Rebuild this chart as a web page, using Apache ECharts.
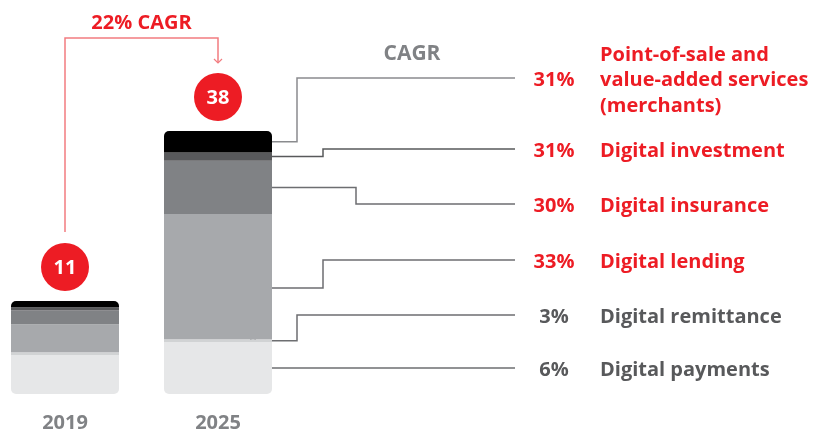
<!DOCTYPE html>
<html>
<head>
<meta charset="utf-8">
<script src="https://cdn.jsdelivr.net/npm/echarts@6/dist/echarts.min.js"></script>
<style>
  html, body { margin: 0; padding: 0; background: #fff; }
  #chart { width: 825px; height: 434px; }
</style>
</head>
<body>
<div id="chart"></div>
<script>
  // data, bottom segment first
  var years = ['2019', '2025']
  var totals = [11, 38]
  var segments = ['Digital payments', 'Digital remittance', 'Digital lending', 'Digital insurance', 'Digital investment', 'Point-of-sale and\nvalue-added services\n(merchants)']
  var values2019 = [4.6, 0.35, 3.3, 1.65, 0.35, 0.75]
  var values2025 = [7.5, 0.4, 18.1, 7.7, 1.2, 3.1]
  var cagr = ['6%', '3%', '33%', '30%', '31%', '31%']
  var totalCagr = '22% CAGR'

  var RED = '#ed1c24'
  var GREY = '#808285'
  var DARK = '#58595b'
  var FONT = '"Open Sans"'
  var colors = ['#e6e7e8', '#d1d3d4', '#a7a9ac', '#808285', '#58595b', '#000000']

  var chart = echarts.init(document.getElementById('chart'))

  function radius(i) {
    if (i === 0) return [0, 0, 5, 5]
    if (i === segments.length - 1) return [5, 5, 0, 0]
    return 0
  }

  var series = []
  segments.forEach(function (name, i) {
    series.push({
      name: name, type: 'bar', stack: 'y2019', xAxisIndex: 0, yAxisIndex: 0,
      barWidth: '100%', silent: true,
      itemStyle: { color: colors[i], borderRadius: radius(i) },
      data: [values2019[i]]
    })
    series.push({
      name: name, type: 'bar', stack: 'y2025', xAxisIndex: 1, yAxisIndex: 1,
      barWidth: '100%', silent: true,
      itemStyle: { color: colors[i], borderRadius: radius(i) },
      data: [values2025[i]]
    })
  })

  function xAxis(idx) {
    return {
      type: 'category', gridIndex: idx, data: [years[idx]],
      axisLine: { show: false }, axisTick: { show: false },
      axisLabel: { color: GREY, fontFamily: 'Open Sans', fontWeight: 'bold', fontSize: 20, margin: 19 }
    }
  }
  function yAxis(idx) {
    return { type: 'value', gridIndex: idx, min: 0, max: totals[idx], show: false }
  }

  chart.setOption({
    animation: false,
    grid: [
      { left: 11, width: 108, top: 301, bottom: 40 },
      { left: 164, width: 108, top: 131, bottom: 40 }
    ],
    xAxis: [xAxis(0), xAxis(1)],
    yAxis: [yAxis(0), yAxis(1)],
    series: series
  })

  // annotations placed from the axes
  var g = []
  var circles = []
  years.forEach(function (y, idx) {
    var p = chart.convertToPixel({ xAxisIndex: idx, yAxisIndex: idx }, [y, totals[idx]])
    var cy = p[1] - 34
    circles.push([p[0], cy])
    g.push({ type: 'circle', shape: { cx: p[0], cy: cy, r: 24 }, style: { fill: RED } })
    g.push({
      type: 'text', x: p[0], y: cy + 1,
      style: { text: String(totals[idx]), fill: '#fff', font: 'bold 20px ' + FONT, textAlign: 'center', textVerticalAlign: 'middle' }
    })
  })

  // CAGR bracket
  var bracketY = 38
  var c0 = circles[0], c1 = circles[1]
  g.push({
    type: 'polyline',
    shape: { points: [[c0[0], c0[1] - 35], [c0[0], bracketY], [c1[0], bracketY], [c1[0], c1[1] - 34]] },
    style: { stroke: '#f27c80', lineWidth: 1.5, fill: 'none' }
  })
  g.push({
    type: 'polyline',
    shape: { points: [[c1[0] - 4, c1[1] - 38], [c1[0], c1[1] - 34], [c1[0] + 4, c1[1] - 38]] },
    style: { stroke: '#f27c80', lineWidth: 1.2, fill: 'none' }
  })
  g.push({
    type: 'text', x: (c0[0] + c1[0]) / 2, y: 23,
    style: { text: totalCagr, fill: RED, font: 'bold 20px ' + FONT, textAlign: 'center', textVerticalAlign: 'middle' }
  })
  g.push({
    type: 'text', x: 412, y: 54,
    style: { text: 'CAGR', fill: GREY, font: 'bold 21px ' + FONT, textAlign: 'center', textVerticalAlign: 'middle' }
  })

  // leader lines from 2025 bar to labels
  var rowY = [368, 315, 260, 204, 149, 78]
  var elbowX = [null, 297, 323, 356, 323, 297]
  var dotFrac = [0.5, 0.5, 0.41, 0.5, 0.5, 0.5]
  var lineColors = ['#6d6e71', '#6d6e71', '#6d6e71', '#6d6e71', '#58595b', '#8a8b8e']
  var base = 0
  values2025.forEach(function (v, i) {
    var p = chart.convertToPixel({ xAxisIndex: 1, yAxisIndex: 1 }, [years[1], base + v * dotFrac[i]])
    base += v
    var dx = p[0] + 35, dy = p[1]
    var pts = elbowX[i] === null
      ? [[dx + 2.5, dy], [515, dy]]
      : [[dx + 2.5, dy], [elbowX[i], dy], [elbowX[i], rowY[i]], [515, rowY[i]]]
    g.push({ type: 'polyline', shape: { points: pts }, style: { stroke: lineColors[i], lineWidth: 1.5, fill: 'none' } })
    g.push({
      type: 'circle', shape: { cx: dx, cy: dy, r: 2.5 },
      style: { fill: colors[i], stroke: i < 2 ? DARK : '#fff', lineWidth: 1.2 }
    })
    var red = i >= 2
    g.push({
      type: 'text', x: 554, y: rowY[i] + 2.5,
      style: { text: cagr[i], fill: red ? RED : DARK, font: 'bold 20px ' + FONT, textAlign: 'center', textVerticalAlign: 'middle' }
    })
    g.push({
      type: 'text', x: 600, y: rowY[i] + 2.5,
      style: { text: segments[i], fill: red ? RED : DARK, font: 'bold 20px ' + FONT, lineHeight: 25.5, textAlign: 'left', textVerticalAlign: 'middle' }
    })
  })

  chart.setOption({ graphic: { elements: g } })
</script>
</body>
</html>
